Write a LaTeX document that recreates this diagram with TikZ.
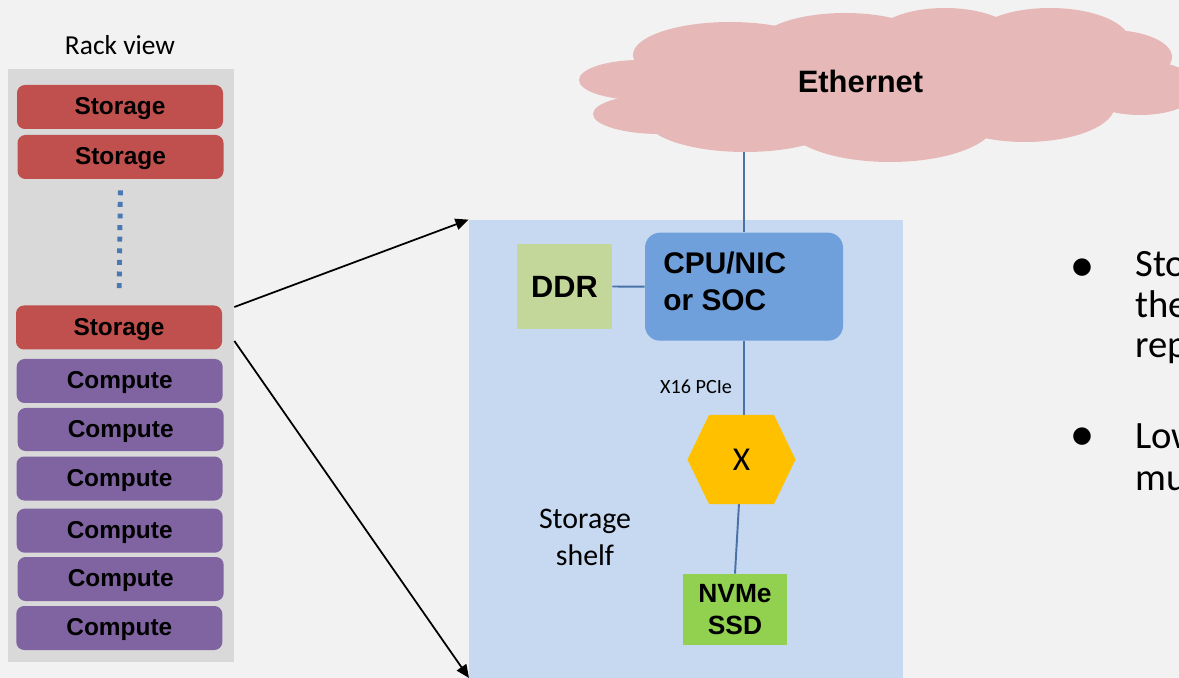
\documentclass[tikz,border=0pt]{standalone}
\usepackage{fontspec}
\setmainfont{Carlito}
\newfontfamily\arialf{Liberation Sans}
\newfontfamily\dejavuf{DejaVu Sans}
\usetikzlibrary{arrows.meta,calc}
\newlength\pu
\setlength\pu{0.02cm}
\definecolor{bgc}{HTML}{F2F2F2}
\definecolor{rackc}{HTML}{D9D9D9}
\definecolor{storc}{HTML}{C0504D}
\definecolor{compc}{HTML}{8064A2}
\definecolor{dotc}{HTML}{4A78B5}
\definecolor{shelfc}{HTML}{C6D9F1}
\definecolor{cpuc}{HTML}{6FA0DC}
\definecolor{ddrc}{HTML}{C4D79B}
\definecolor{nvmec}{HTML}{92D050}
\definecolor{hexc}{HTML}{FFC000}
\definecolor{cloudc}{HTML}{E6B8B7}
\definecolor{wirec}{HTML}{4A72A8}
\tikzset{
  rackbox/.style={rounded corners=4.5pt, minimum width=206\pu, minimum height=44\pu, inner sep=0pt,
    font=\arialf\bfseries\fontsize{13.9}{16}\selectfont, text height=0.86em, text depth=0pt},
  storbox/.style={rackbox, fill=storc},
  compbox/.style={rackbox, fill=compc},
  wire/.style={draw=wirec, line width=1.1pt},
  conn/.style={draw=black, line width=1pt, -{Triangle[length=7.5pt,width=6.5pt]}},
  boldtxt/.style={font=\arialf\bfseries\fontsize{17}{21}\selectfont, inner sep=0pt},
  plaintxt/.style={font=\fontsize{17}{21}\selectfont, inner sep=0pt},
  bullettxt/.style={font=\fontsize{22}{24}\selectfont, inner sep=0pt, anchor=base west},
  bulletdot/.style={font=\dejavuf\fontsize{13}{14}\selectfont, inner sep=0pt},
  cloudpart/.style={fill=cloudc}
}
\begin{document}
\begin{tikzpicture}[x=0.02cm,y=-0.02cm]
\useasboundingbox (0,0) rectangle (1179,678);
\fill[bgc] (0,0) rectangle (1179,678);
\clip (0,0) rectangle (1179,678);

% rack view
\node[font=\fontsize{15.6}{18}\selectfont, inner sep=0pt] (rackt) at (120,45) {Rack view};
\node[fill=rackc, minimum width=226\pu, minimum height=593\pu, inner sep=0pt] (rack) at (121,365.5) {};
\node[storbox] (s1) at (120,107) {Storage};
\node[storbox] (s2) at (120.5,157) {Storage};
\node[storbox] (s3) at (119,327.5) {Storage};
\node[compbox] (c1) at (119.7,381) {Compute};
\node[compbox, minimum height=43\pu] (c2) at (120.7,429.5) {Compute};
\node[compbox] (c3) at (119.5,478.5) {Compute};
\node[compbox] (c4) at (119.7,530.7) {Compute};
\node[compbox] (c5) at (120.7,579) {Compute};
\node[compbox] (c6) at (119.3,628) {Compute};
\draw[dotc, line width=2.8pt, dash pattern=on 2.8pt off 3.8pt, shorten <=11\pu, shorten >=14\pu]
  (s2.south) -- (s3.north);

% storage shelf
\node[fill=shelfc, minimum width=434\pu, minimum height=480\pu, inner sep=0pt] (shelf) at (686,460) {};

% components
\node[fill=cpuc, rounded corners=8.5pt, minimum width=198\pu, minimum height=108\pu, inner sep=0pt] (cpu) at (744,286.7) {};
\node[fill=ddrc, minimum width=95\pu, minimum height=85\pu, inner sep=0pt, font=\arialf\bfseries\fontsize{17.5}{21}\selectfont] (ddr) at (564.5,286.5) {DDR};
\node[fill=nvmec, minimum width=104\pu, minimum height=71\pu, inner sep=0pt, align=center,
  font=\arialf\bfseries\fontsize{15}{18.7}\selectfont] (nvme) at (735,609.5) {NVMe\\SSD};
\coordinate (ethc) at (860.5,81);
\coordinate (swc) at (741.5,459.5);

\draw[wire] (cpu.north) -- (cpu.north |- ethc);
\draw[wire] (ddr.east) -- (cpu.west);
\draw[wire] (cpu.south) -- (cpu.south |- swc);
\draw[wire] (swc) -- (nvme.north);

% switch hexagon
\fill[hexc] ($(swc)+(-54,0)$) -- ($(swc)+(-32.5,-44.5)$) -- ($(swc)+(32.5,-44.5)$)
  -- ($(swc)+(54,0)$) -- ($(swc)+(32.5,44.5)$) -- ($(swc)+(-32.5,44.5)$) -- cycle;
\node[font=\fontsize{19}{21}\selectfont, inner sep=0pt] (sw) at (swc) {X};

% cloud
\fill[cloudpart] (640,80) ellipse [x radius=61, y radius=20];
\fill[cloudpart] (660,114) ellipse [x radius=67, y radius=20];
\fill[cloudpart] (745,118) ellipse [x radius=100, y radius=34];
\fill[cloudpart] (890,122) ellipse [x radius=105, y radius=40];
\fill[cloudpart] (1025,105) ellipse [x radius=90, y radius=37];
\fill[cloudpart] (1140,88) ellipse [x radius=60, y radius=27];
\fill[cloudpart] (1110,57) ellipse [x radius=62, y radius=27];
\fill[cloudpart] (1050,42) ellipse [x radius=80, y radius=34];
\fill[cloudpart] (945,42) ellipse [x radius=75, y radius=34];
\fill[cloudpart] (845,47) ellipse [x radius=90, y radius=34];
\fill[cloudpart] (730,55) ellipse [x radius=97, y radius=33];
\fill[cloudpart] (880,90) ellipse [x radius=240, y radius=45];
\node[boldtxt, font=\arialf\bfseries\fontsize{17.6}{21}\selectfont] (eth) at (ethc) {Ethernet};

% labels inside shelf
\node[boldtxt, anchor=west, align=left] (cputxt) at (663,281) {CPU/NIC\\or SOC};
\node[font=\fontsize{11.5}{13}\selectfont, inner sep=0pt] (pcie) at (696,387) {X16 PCIe};
\node[plaintxt, align=center] (shelft) at (585,537) {Storage\\shelf};

% arrows from rack storage to shelf
\coordinate (a1s) at (rack.east |- 0,307);
\coordinate (a2s) at (rack.east |- 0,341);
\coordinate (a2e) at (469,678);
\draw[conn] (a1s) -- (shelf.north west);
\draw[conn] (a2s) -- (a2e);

% bullets (cut at the right edge, as in the reference)
\node[bulletdot] (b1) at (1082,268) {●};
\node[bulletdot] (b2) at (1082,437) {●};
\node[bullettxt] (l1) at (1135,277) {Sto};
\node[bullettxt] (l2) at (1135,318) {the};
\node[bullettxt] (l3) at (1135,358) {rep};
\node[bullettxt] (l4) at (1135,448) {Low};
\node[bullettxt] (l5) at (1135,490) {mu};
\end{tikzpicture}
\end{document}
